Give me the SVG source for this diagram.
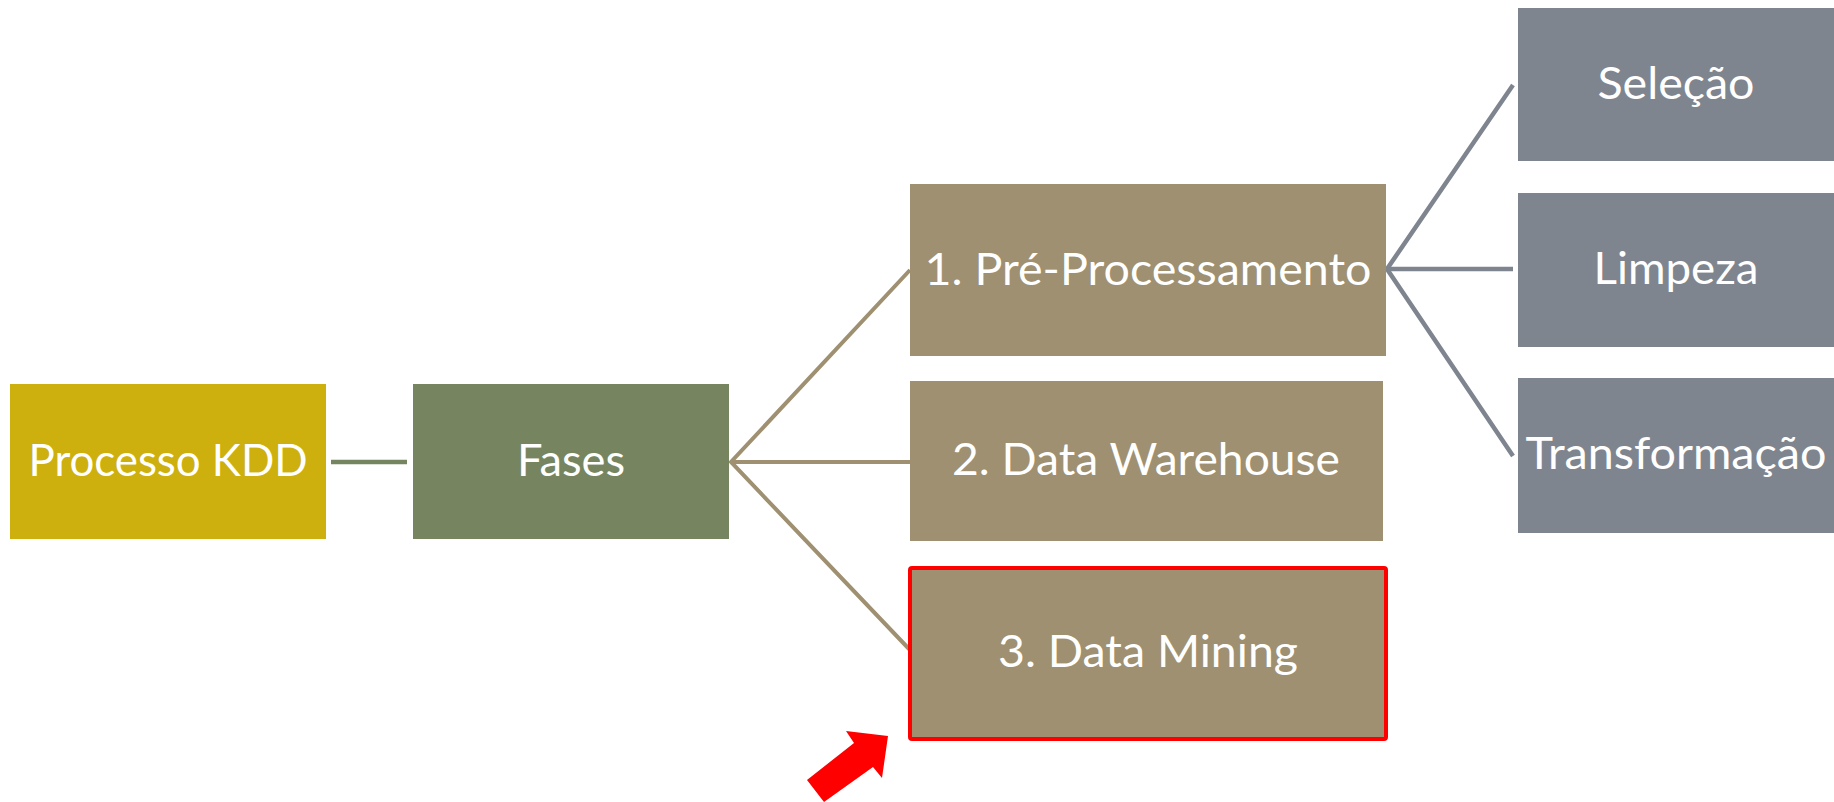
<svg xmlns="http://www.w3.org/2000/svg" width="1834" height="802" viewBox="0 0 1834 802">
<style>
.t{font-family:Lato,"Open Sans","Liberation Sans",sans-serif;font-size:45px;fill:#FFFFFF;text-anchor:middle}
.tan{fill:#9E9070}
.gray{fill:#7F858F}
.lt{stroke:#9E9070;stroke-width:4;fill:none}
.lg{stroke:#7F858F;stroke-width:4.5;fill:none}
</style>
<rect width="1834" height="802" fill="#FFFFFF"/>
<g id="connectors">
<line x1="331" y1="462" x2="407" y2="462" stroke="#758560" stroke-width="4.5"/>
<polyline class="lt" points="910,270 731,462 910,650"/>
<line class="lt" x1="731" y1="462" x2="910" y2="462"/>
<polyline class="lg" points="1513,85 1387,269 1513,456"/>
<line class="lg" x1="1387" y1="269" x2="1513" y2="269"/>
</g>
<g id="n-kdd"><rect x="10" y="384" width="316" height="155" fill="#CDB00D"/><text class="t" x="168" y="476" textLength="279" lengthAdjust="spacingAndGlyphs">Processo KDD</text></g>
<g id="n-fases"><rect x="413" y="384" width="316" height="155" fill="#76855F"/><text class="t" x="571" y="476" textLength="108" lengthAdjust="spacingAndGlyphs">Fases</text></g>
<g id="n-pre"><rect class="tan" x="910" y="184" width="476" height="172"/><text class="t" x="1148" y="285" textLength="447" lengthAdjust="spacingAndGlyphs">1. Pré-Processamento</text></g>
<g id="n-dw"><rect class="tan" x="910" y="381" width="473" height="160"/><text class="t" x="1146" y="475" textLength="388" lengthAdjust="spacingAndGlyphs">2. Data Warehouse</text></g>
<g id="n-dm"><rect class="tan" x="910" y="568" width="476" height="171" rx="2" stroke="#FF0000" stroke-width="4"/><text class="t" x="1148" y="667" textLength="300" lengthAdjust="spacingAndGlyphs">3. Data Mining</text></g>
<g id="n-sel"><rect class="gray" x="1518" y="8" width="316" height="153"/><text class="t" x="1676" y="99" textLength="157" lengthAdjust="spacingAndGlyphs">Seleção</text></g>
<g id="n-limp"><rect class="gray" x="1518" y="193" width="316" height="154"/><text class="t" x="1676" y="284" textLength="165" lengthAdjust="spacingAndGlyphs">Limpeza</text></g>
<g id="n-transf"><rect class="gray" x="1518" y="378" width="316" height="155"/><text class="t" x="1676" y="469" textLength="301" lengthAdjust="spacingAndGlyphs">Transformação</text></g>
<g id="arrow"><polygon points="846,731 888,736 882,778 873,767 824,802 807,780 854,743" fill="#FF0000"/></g>
</svg>
